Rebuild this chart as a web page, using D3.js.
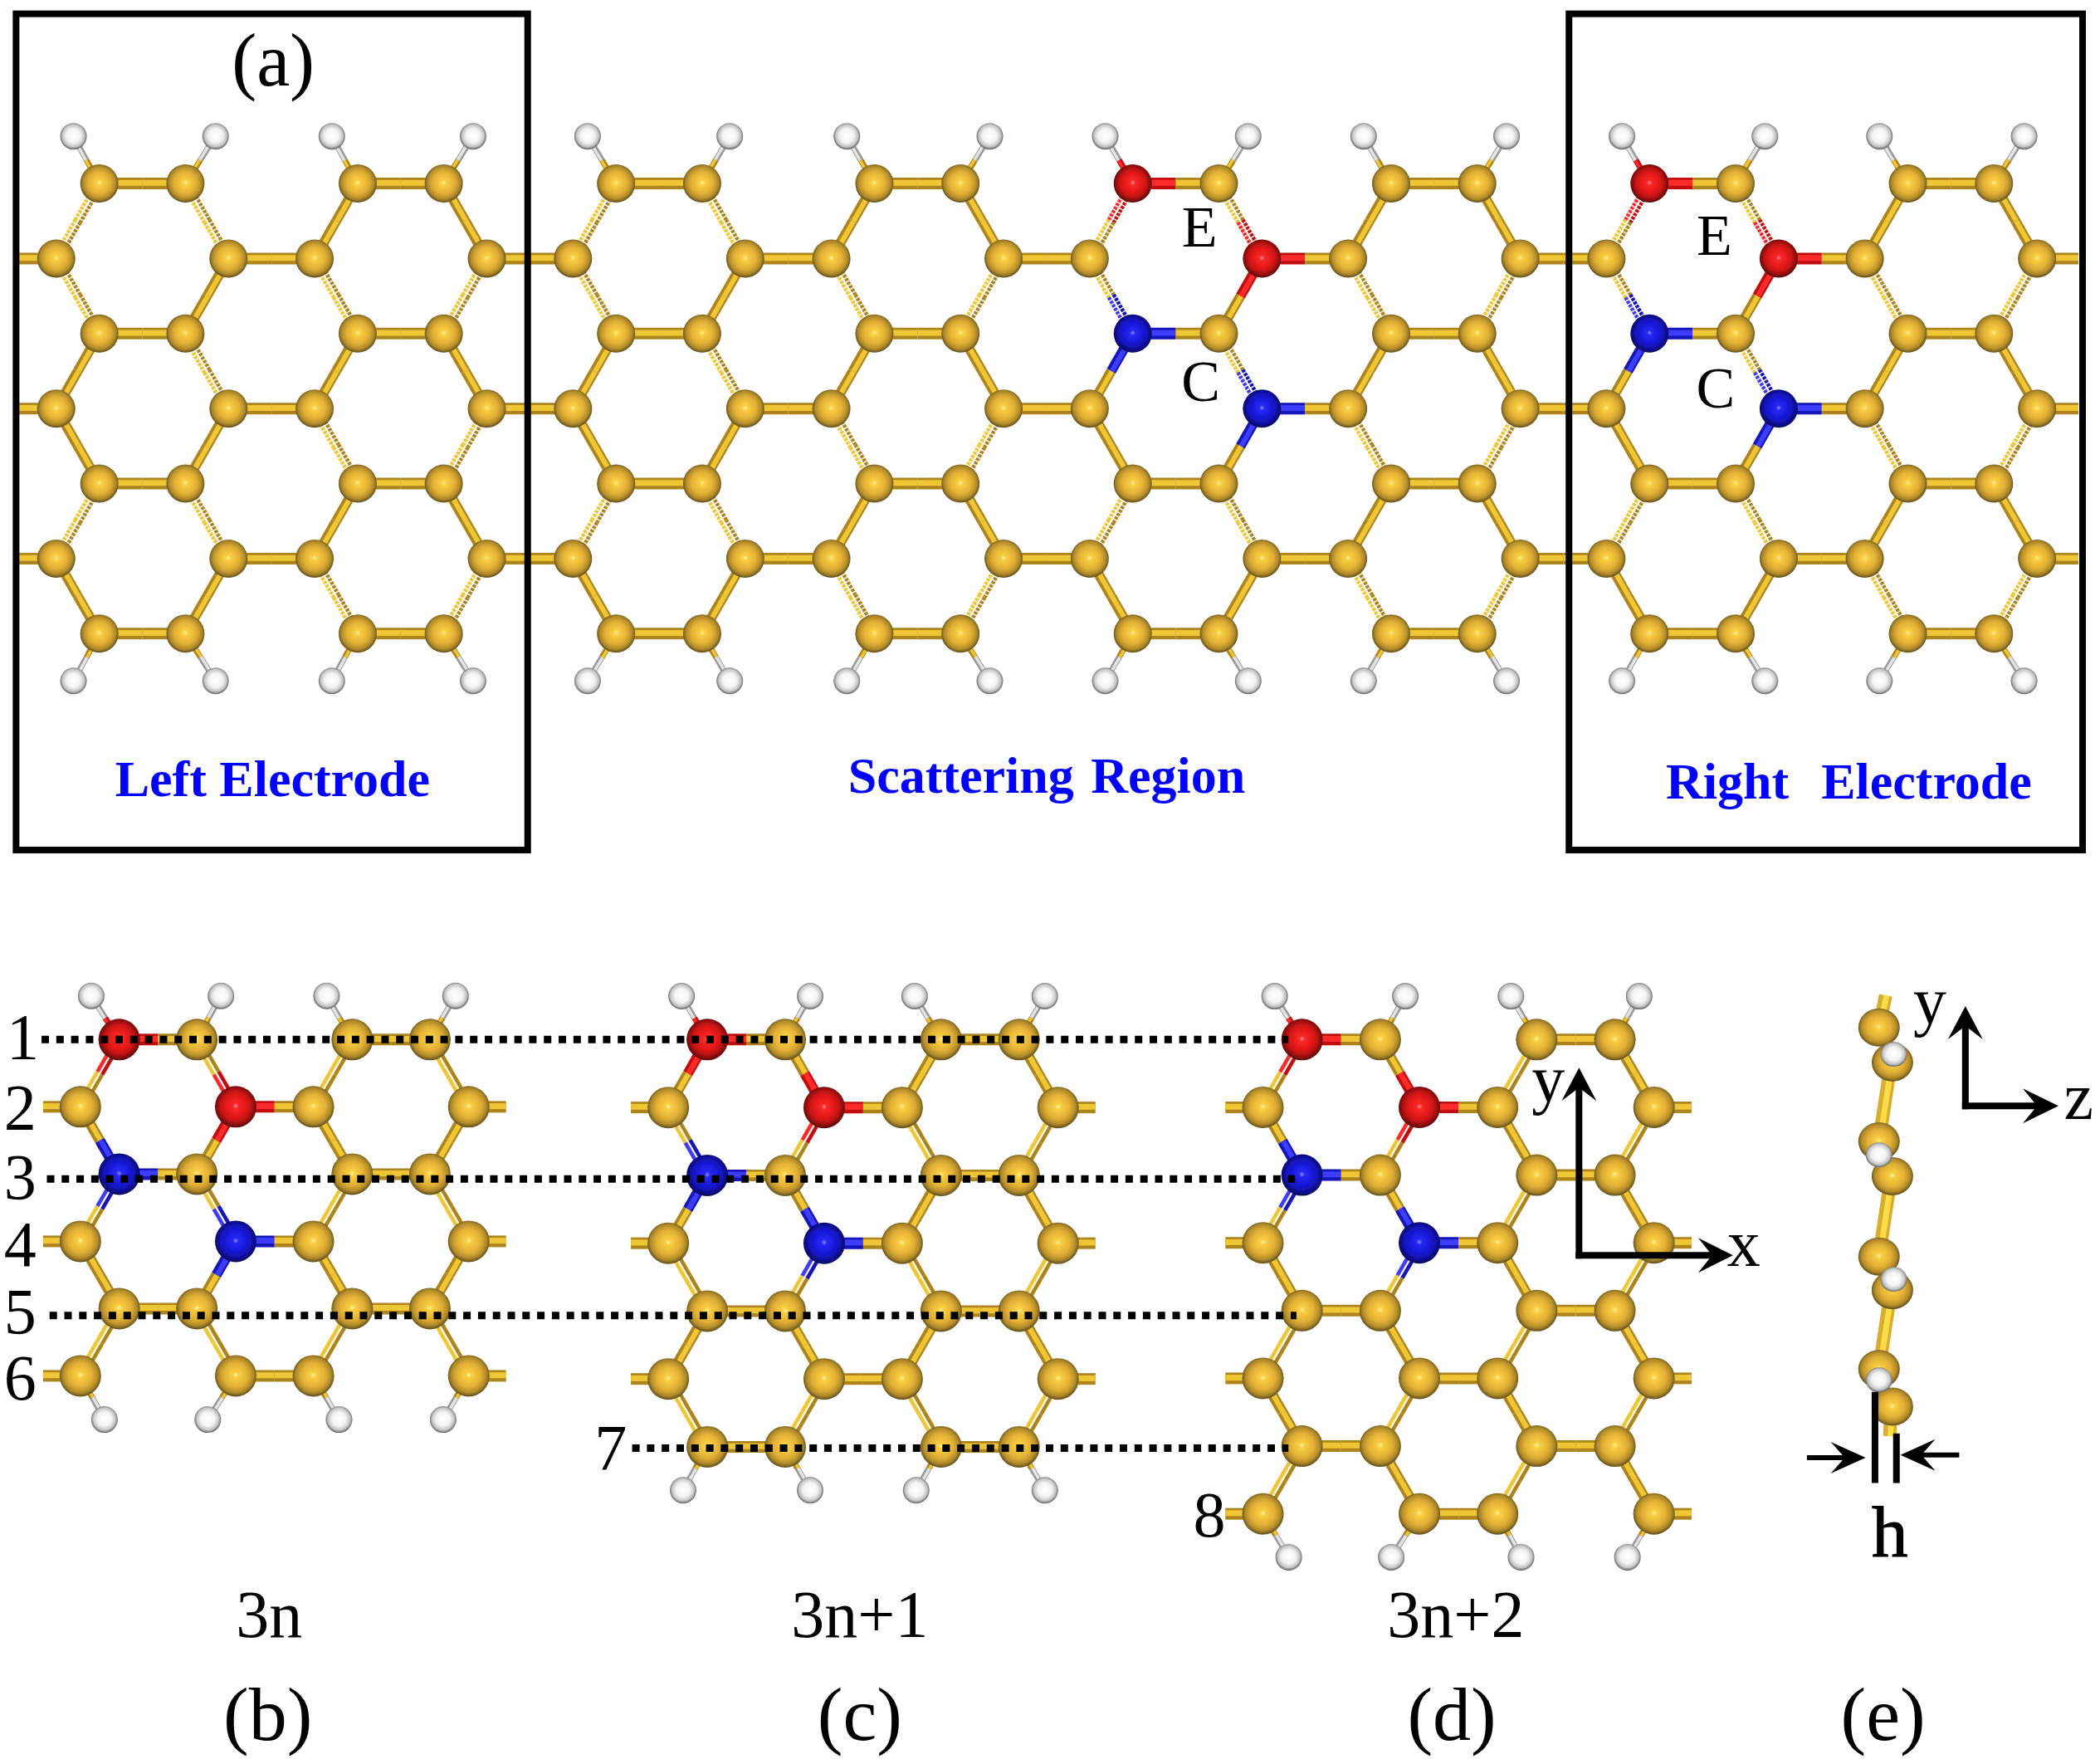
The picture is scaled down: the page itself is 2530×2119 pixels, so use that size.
<!DOCTYPE html>
<html>
<head>
<meta charset="utf-8">
<script src="https://cdn.jsdelivr.net/npm/d3@7"></script>
<style>
  html, body { margin: 0; padding: 0; background: #fff; }
  text { font-family: "Liberation Serif", serif; white-space: pre; }
</style>
</head>
<body>
<script>
// lattice columns of the two kinds of row (units of one C-C bond)
var topCols4 = [0.5, 1.5, 3.5, 4.5];
var midCols4 = [0, 2, 3, 5];
var topColsA = [0.5, 1.5, 3.5, 4.5, 6.5, 7.5, 9.5, 10.5, 12.5, 13.5, 15.5, 16.5, 18.5, 19.5, 21.5, 22.5];
var midColsA = [0, 2, 3, 5, 6, 8, 9, 11, 12, 14, 15, 17, 18, 20, 21, 23];

// hydrogen columns
var hTopA = [0.2, 1.85, 3.2, 4.84, 6.17, 7.82, 9.18, 10.84, 12.18, 13.84, 15.18, 16.84, 18.18, 19.84, 21.17, 22.85];
var hBotA = [0.2, 1.85, 3.2, 4.84, 6.17, 7.82, 9.18, 10.84, 12.18, 13.84, 15.18, 16.84, 18.18, 19.84, 21.17, 22.85];
var hTopB = [0.14, 1.81, 3.17, 4.83];
var hBotB = [0.31, 1.64, 3.33, 4.67];
var hTopC = [0.17, 1.82, 3.16, 4.83];
var hBotC = [0.19, 1.82, 3.18, 4.83];
var hTopD = [0.15, 1.82, 3.17, 4.81];
var hBotD = [0.33, 1.64, 3.3, 4.66];

// which diagonal bonds are drawn as a double stick (d) or a single one (s), per row gap
var bondsA = ["ddss", "dsdd", "sdss", "ssdd", "ddss", "ssdd"];
var bondsB = ["dddd", "ssss", "dddd", "ssss", "dddd"];
var bondsC = ["ssss", "dddd", "ssss", "dddd", "ssss", "dddd"];
var bondsD = ["dsds", "sdsd", "dsds", "sdsd", "dsds", "sdsd", "dsds"];

// O (red) and N (blue) sites as col, row
var redA = [[12.5, 0], [14, 1], [18.5, 0], [20, 1]];
var blueA = [[12.5, 2], [14, 3], [18.5, 2], [20, 3]];
var red4 = [[0.5, 0], [2, 1]];
var blue4 = [[0.5, 2], [2, 3]];

// side view, picture units
var sideLeftY = [767, 852, 938, 1022];
var sideRightY = [793, 878, 963, 1050];
var sideHx = [1414, 1403, 1414, 1403];
var sideHy = [787, 862, 955, 1030];

// texts
var rowNumbers = ["1", "2", "3", "4", "5", "6", "7", "8"];
var electrodeLabels = ["Left Electrode", "Scattering Region", "Right   Electrode"];
var widthLabels = ["3n", "3n+1", "3n+2"];
var panelLabels = ["(a)", "(b)", "(c)", "(d)", "(e)"];

var width = 2530, height = 2119;

// picture units (the 1568 wide sketch I measured on) to pixels
var picX = d3.scaleLinear().domain([0, 1568]).range([0, width]);
var picY = d3.scaleLinear().domain([0, 1313]).range([0, height]);

var svg = d3.select("body").append("svg")
  .attr("width", width).attr("height", height)
  .style("display", "block");

// ball gradients
var defs = svg.append("defs");
function ballGradient(id, stops) {
  var g = defs.append("radialGradient").attr("id", id)
    .attr("cx", "50%").attr("cy", "48%").attr("r", "52%");
  stops.forEach(function(s) {
    g.append("stop").attr("offset", s[0]).attr("stop-color", s[1]);
  });
}
ballGradient("ballC", [[0, "#fff0a0"], [0.13, "#f9cf44"], [0.55, "#e2b035"], [0.82, "#b08a2a"], [1, "#5e4c1c"]]);
ballGradient("ballO", [[0, "#ff8a8a"], [0.13, "#f82828"], [0.55, "#de1616"], [0.82, "#a01010"], [1, "#500808"]]);
ballGradient("ballN", [[0, "#8a8aff"], [0.13, "#2828f4"], [0.55, "#1616d4"], [0.82, "#10109a"], [1, "#080850"]]);
ballGradient("ballH", [[0, "#ffffff"], [0.5, "#f4f4f4"], [0.8, "#c4c4c4"], [1, "#606060"]]);

// the reference is a soft bitmap, so the molecules get a slight blur
defs.append("filter").attr("id", "soft")
  .attr("x", 0).attr("y", 0).attr("width", width).attr("height", height)
  .attr("filterUnits", "userSpaceOnUse")
  .append("feGaussianBlur").attr("stdDeviation", 0.7);

var bondColors = {
  C: {dark: "#ad851f", light: "#efc636"},
  O: {dark: "#c01010", light: "#ff2c2c"},
  N: {dark: "#1212b8", light: "#3c3cff"},
  H: {dark: "#9a9a9a", light: "#e4e4e4"}
};

var molecules = svg.append("g").attr("filter", "url(#soft)");
var stickLayer = molecules.append("g").attr("class", "sticks");
var ballLayer = molecules.append("g").attr("class", "balls");

function offsetLine(a, b, off) {
  var dx = b[0] - a[0], dy = b[1] - a[1], len = Math.sqrt(dx * dx + dy * dy) || 1;
  var nx = -dy / len * off, ny = dx / len * off;
  return [[a[0] + nx, a[1] + ny], [b[0] + nx, b[1] + ny]];
}

function seg(a, b, col, w, dash) {
  stickLayer.append("line")
    .attr("x1", a[0]).attr("y1", a[1]).attr("x2", b[0]).attr("y2", b[1])
    .attr("stroke", col).attr("stroke-width", w)
    .attr("stroke-dasharray", dash || null);
}

// one half of a stick
function halfStick(a, b, el, style, dash, w) {
  var c = bondColors[el];
  if (style == "d") {
    var l1 = offsetLine(a, b, -3.4), l2 = offsetLine(a, b, 3.4);
    seg(l1[0], l1[1], c.dark, 4.6, dash);
    seg(l2[0], l2[1], c.light, 4.6, dash);
  } else {
    seg(a, b, c.dark, w);
    var l = offsetLine(a, b, -0.8);
    seg(l[0], l[1], c.light, w * 0.5);
  }
}

function stick(a, b, elA, elB, style, dash, w) {
  var m = [(a[0] + b[0]) / 2, (a[1] + b[1]) / 2];
  halfStick(a, m, elA, style, dash, w);
  halfStick(m, b, elB, style, dash, w);
}

function ball(p, el, r) {
  ballLayer.append("circle")
    .attr("cx", p[0]).attr("cy", p[1]).attr("r", r)
    .attr("fill", "url(#ball" + el + ")");
}

function drawRibbon(opt) {
  var colX = d3.scaleLinear().domain([0, d3.max(opt.mid)]).range(opt.xr);
  var rowY = d3.scaleLinear().domain([0, opt.bonds.length]).range(opt.yr);
  var pos = function(c, r) { return [picX(colX(c)), picY(rowY(r))]; };
  var element = function(c, r) {
    if (opt.red.some(function(s) { return s[0] == c && s[1] == r; })) return "O";
    if (opt.blue.some(function(s) { return s[0] == c && s[1] == r; })) return "N";
    return "C";
  };
  var rows = d3.range(opt.bonds.length + 1);

  // zigzag diagonals
  opt.bonds.forEach(function(pattern, gap) {
    opt.top.forEach(function(tc, i) {
      var mc = opt.mid[i];
      var upperC = gap % 2 == 0 ? tc : mc, lowerC = gap % 2 == 0 ? mc : tc;
      var style = pattern[i % pattern.length];
      stick(pos(upperC, gap), pos(lowerC, gap + 1), element(upperC, gap), element(lowerC, gap + 1),
        style, opt.dash, opt.diagW);
    });
  });

  // horizontal bonds, with the stubs that run out of the ribbon on the mid rows
  rows.forEach(function(r) {
    var cols = r % 2 == 0 ? opt.top : opt.mid;
    var start = r % 2 == 0 ? 0 : 1;
    for (var i = start; i + 1 < cols.length; i += 2) {
      stick(pos(cols[i], r), pos(cols[i + 1], r), element(cols[i], r), element(cols[i + 1], r), "s", null, opt.horW);
    }
    if (r % 2 == 1) {
      var last = cols[cols.length - 1];
      stick(pos(cols[0] - opt.stub[0], r), pos(cols[0], r), "C", "C", "s", null, opt.horW);
      stick(pos(last, r), pos(last + opt.stub[1], r), "C", "C", "s", null, opt.horW);
    }
  });

  // hydrogens on both edges
  var lastRow = opt.bonds.length;
  var lastCols = lastRow % 2 == 0 ? opt.top : opt.mid;
  opt.hTop.forEach(function(hc, i) {
    stick(pos(opt.top[i], 0), pos(hc, -opt.hRow), element(opt.top[i], 0), "H", "s", null, 7);
    ball(pos(hc, -opt.hRow), "H", 16);
  });
  opt.hBot.forEach(function(hc, i) {
    stick(pos(lastCols[i], lastRow), pos(hc, lastRow + opt.hRow), "C", "H", "s", null, 7);
    ball(pos(hc, lastRow + opt.hRow), "H", 16);
  });

  rows.forEach(function(r) {
    (r % 2 == 0 ? opt.top : opt.mid).forEach(function(c) {
      ball(pos(c, r), element(c, r), opt.r);
    });
  });
}

drawRibbon({top: topColsA, mid: midColsA, bonds: bondsA, red: redA, blue: blueA, hTop: hTopA, hBot: hBotA,
  xr: [42, 1521], yr: [137, 473], hRow: 0.63, stub: [0.44, 0.48], r: 23, diagW: 12, horW: 14, dash: "3.5 1.4"});
drawRibbon({top: topCols4, mid: midCols4, bonds: bondsB, red: red4, blue: blue4, hTop: hTopB, hBot: hBotB,
  xr: [60, 350], yr: [776, 1027], hRow: 0.65, stub: [0.48, 0.48], r: 25, diagW: 12.5, horW: 14});
drawRibbon({top: topCols4, mid: midCols4, bonds: bondsC, red: red4, blue: blue4, hTop: hTopC, hBot: hBotC,
  xr: [499, 790], yr: [776, 1080], hRow: 0.64, stub: [0.48, 0.48], r: 25, diagW: 12.5, horW: 14});
drawRibbon({top: topCols4, mid: midCols4, bonds: bondsD, red: red4, blue: blue4, hTop: hTopD, hBot: hBotD,
  xr: [943, 1235], yr: [776, 1130], hRow: 0.64, stub: [0.48, 0.48], r: 25, diagW: 12.5, horW: 14});

// (e) side view
var sideLayer = molecules.append("g");
var sideSticks = [[1408, 743, 1403, 767], [1412, 793, 1403, 852], [1412, 878, 1403, 938], [1412, 963, 1403, 1022], [1412, 1050, 1411, 1072]];
sideSticks.forEach(function(s) {
  sideLayer.append("line")
    .attr("x1", picX(s[0])).attr("y1", picY(s[1])).attr("x2", picX(s[2])).attr("y2", picY(s[3]))
    .attr("stroke", "#d8ac2e").attr("stroke-width", 16);
  sideLayer.append("line")
    .attr("x1", picX(s[0]) + 1).attr("y1", picY(s[1])).attr("x2", picX(s[2]) + 1).attr("y2", picY(s[3]))
    .attr("stroke", "#fbdc48").attr("stroke-width", 7);
});
function sideBall(x, y, el, rx, ry) {
  sideLayer.append("ellipse")
    .attr("cx", picX(x)).attr("cy", picY(y)).attr("rx", rx).attr("ry", ry)
    .attr("fill", "url(#ball" + el + ")");
}
sideLeftY.forEach(function(y) { sideBall(1403, y, "C", 25, 23); });
sideRightY.forEach(function(y) { sideBall(1413, y, "C", 25, 23); });
sideHx.forEach(function(x, i) { sideBall(x, sideHy[i], "H", 16, 15); });

// dotted guide lines
var guides = [[31, 962, 776], [35, 967, 880], [37, 968, 982], [472, 962, 1081]];
svg.append("g").selectAll("line").data(guides).enter().append("line")
  .attr("x1", function(d) { return picX(d[0]); })
  .attr("x2", function(d) { return picX(d[1]); })
  .attr("y1", function(d) { return picY(d[2]); })
  .attr("y2", function(d) { return picY(d[2]); })
  .attr("stroke", "#000").attr("stroke-width", 9).attr("stroke-dasharray", "9 8.8");

// electrode boxes
var boxes = [[12, 394, 10.3, 634.5], [1171.5, 1555, 10.3, 634.5]];
svg.append("g").selectAll("rect").data(boxes).enter().append("rect")
  .attr("x", function(d) { return picX(d[0]); })
  .attr("y", function(d) { return picY(d[2]); })
  .attr("width", function(d) { return picX(d[1]) - picX(d[0]); })
  .attr("height", function(d) { return picY(d[3]) - picY(d[2]); })
  .attr("fill", "none").attr("stroke", "#000").attr("stroke-width", 8);

// arrows
function arrow(x1, y1, x2, y2, w, head, wing) {
  var a = [picX(x1), picY(y1)], b = [picX(x2), picY(y2)];
  var dx = b[0] - a[0], dy = b[1] - a[1], len = Math.sqrt(dx * dx + dy * dy);
  var ux = dx / len, uy = dy / len;
  var neck = [b[0] - ux * head * 0.6, b[1] - uy * head * 0.6];
  svg.append("line")
    .attr("x1", a[0]).attr("y1", a[1]).attr("x2", neck[0]).attr("y2", neck[1])
    .attr("stroke", "#000").attr("stroke-width", w).attr("stroke-linecap", "square");
  var back = [b[0] - ux * head, b[1] - uy * head];
  var pts = [b, [back[0] - uy * wing, back[1] + ux * wing], neck, [back[0] + uy * wing, back[1] - ux * wing]];
  svg.append("polygon").attr("points", pts.map(function(p) { return p.join(","); }).join(" ")).attr("fill", "#000");
}
arrow(1179, 937, 1179, 797, 8, 40, 21);
arrow(1179, 937, 1294, 937, 8, 42, 21);
arrow(1467.5, 825.5, 1467.5, 751, 8, 40, 21);
arrow(1467.5, 825.5, 1537, 825.5, 8, 43, 21);
arrow(1351, 1088, 1393, 1088, 6, 42, 19);
arrow(1461, 1086, 1419, 1086, 6, 42, 19);

// h gauge bars
var hBars = [[1400, 1039, 1107], [1416, 1070, 1107]];
svg.append("g").selectAll("line").data(hBars).enter().append("line")
  .attr("x1", function(d) { return picX(d[0]); })
  .attr("x2", function(d) { return picX(d[0]); })
  .attr("y1", function(d) { return picY(d[1]); })
  .attr("y2", function(d) { return picY(d[2]); })
  .attr("stroke", "#000").attr("stroke-width", 8);

// texts
function label(str, x, y, size, opts) {
  opts = opts || {};
  return svg.append("text")
    .attr("x", picX(x)).attr("y", picY(y))
    .attr("text-anchor", opts.anchor || "middle")
    .attr("font-size", size)
    .attr("font-weight", opts.weight || "normal")
    .attr("word-spacing", opts.wordSpacing || null)
    .attr("fill", opts.fill || "#000")
    .text(str);
}
label(panelLabels[0], 204, 64, 90);
label(panelLabels[1], 200, 1299, 92);
label(panelLabels[2], 642, 1299, 92);
label(panelLabels[3], 1084, 1299, 92);
label(panelLabels[4], 1406, 1299, 92);

label(widthLabels[0], 201, 1222, 80);
label(widthLabels[1], 642, 1222, 80);
label(widthLabels[2], 1087, 1222, 80);

label(electrodeLabels[0], 203.5, 594, 62, {weight: "bold", fill: "#0000ff"});
label(electrodeLabels[1], 781.5, 592, 62, {weight: "bold", fill: "#0000ff", wordSpacing: 5});
label(electrodeLabels[2], 1380.5, 596, 62, {weight: "bold", fill: "#0000ff", wordSpacing: -2.5});

var rowLabelX = [17, 15, 15, 15, 15, 15, 456, 903];
var rowLabelY = [790, 843, 895, 945, 995, 1045, 1097, 1147];
rowNumbers.forEach(function(n, i) { label(n, rowLabelX[i], rowLabelY[i], 78); });

label("E", 895.6, 184, 70);
label("C", 896.5, 299.5, 70);
label("E", 1280, 190, 70);
label("C", 1281, 304, 70);

label("y", 1156, 822, 80);
label("x", 1302, 945, 80);
label("y", 1441, 764, 80);
label("z", 1552, 835, 80);
label("h", 1411, 1162, 87).attr("stroke", "#000").attr("stroke-width", 1.2);
</script>
</body>
</html>
